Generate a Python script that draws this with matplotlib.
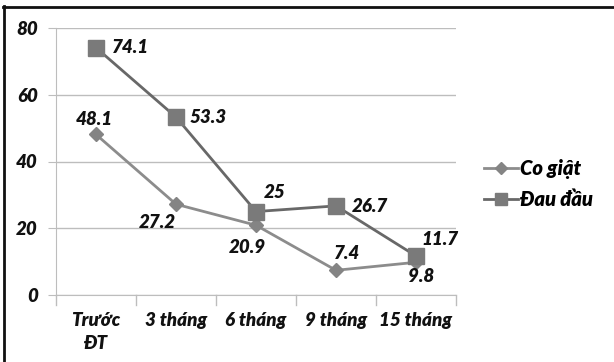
import matplotlib.pyplot as plt
from matplotlib.lines import Line2D

categories = ["Trước\nĐT", "3 tháng", "6 tháng", "9 tháng", "15 tháng"]
co_giat = [48.1, 27.2, 20.9, 7.4, 9.8]
dau_dau = [74.1, 53.3, 25, 26.7, 11.7]
series_names = ["Co giật", "Đau đầu"]
y_ticks = [0, 20, 40, 60, 80]

families = ['Lato', 'DejaVu Sans']
plt.rcParams['font.family'] = families
font = dict(fontweight='heavy', fontstyle='italic', fontsize=13.5, color='#111111')

fig = plt.figure(figsize=(6.14, 3.62), dpi=100)
ax = fig.add_axes([56 / 614, 1 - 295 / 362, 400 / 614, 267 / 362])

x = list(range(len(categories)))
c_light = '#8c8c8c'
c_dark = '#686868'
ax.plot(x, co_giat, color=c_light, lw=2, marker='D', ms=7, mfc='#848484', mec='#848484',
        label=series_names[0], zorder=3)
ax.plot(x, dau_dau, color=c_dark, lw=2, marker='s', ms=11, mfc='#7a7a7a', mec='#7a7a7a',
        label=series_names[1], zorder=4)

ax.set_xlim(-0.5, len(categories) - 0.5)
ax.set_ylim(0, 80)
ax.set_yticks(y_ticks)
ax.set_xticks(x)
ax.set_xticklabels(categories, **font, linespacing=1.45)
ax.set_yticklabels([str(v) for v in y_ticks], **font)
ax.yaxis.grid(True, color='#bdbdbd', lw=1)
ax.set_axisbelow(True)
for s in ['top', 'right']:
    ax.spines[s].set_visible(False)
ax.spines['left'].set_color('#bdbdbd')
ax.spines['bottom'].set_color('#bdbdbd')
ax.tick_params(axis='y', length=6, color='#bdbdbd', pad=7)
ax.tick_params(axis='x', length=0, pad=12)
for b in [i - 0.5 for i in range(len(categories) + 1)]:
    ax.plot([b, b], [0, -3], color='#bdbdbd', lw=1, clip_on=False)

# value labels: (dx, dy) in pixels from the point, horizontal alignment
px = 0.72
dd_pos = [(16, 0, 'left'), (14, 0, 'left'), (19, 19, 'center'), (16, -1, 'left'), (24, 16, 'center')]
cg_pos = [(-2, 15, 'center'), (-19, -18, 'center'), (-9, -22, 'center'), (11, 17, 'center'), (5, -14, 'center')]
for i, v in enumerate(dau_dau):
    dx, dy, ha = dd_pos[i]
    ax.annotate(f"{v:g}", (i, v), xytext=(dx * px, dy * px), textcoords='offset points',
                ha=ha, va='center', **font)
for i, v in enumerate(co_giat):
    dx, dy, ha = cg_pos[i]
    ax.annotate(f"{v:g}", (i, v), xytext=(dx * px, dy * px), textcoords='offset points',
                ha=ha, va='center', **font)

handles = [Line2D([], [], color=c_light, lw=2, marker='D', ms=6, mfc='#848484', mec='#848484'),
           Line2D([], [], color=c_dark, lw=2, marker='s', ms=9, mfc='#7a7a7a', mec='#7a7a7a')]
fig.legend(handles, series_names, loc='center left', bbox_to_anchor=(484 / 614, 1 - 184 / 362),
           frameon=False, prop=dict(family=families, weight='heavy', style='italic', size=14.5),
           handlelength=1.7, handletextpad=0.1, labelspacing=0.55, borderpad=0, borderaxespad=0)

# frame lines at top and left
fig.add_artist(Line2D([3 / 614, 613 / 614], [1 - 6.5 / 362] * 2, color='#111111', lw=2))
fig.add_artist(Line2D([3.5 / 614] * 2, [0, 1 - 6 / 362], color='#111111', lw=2))

fig.savefig('out.png', dpi=100)
